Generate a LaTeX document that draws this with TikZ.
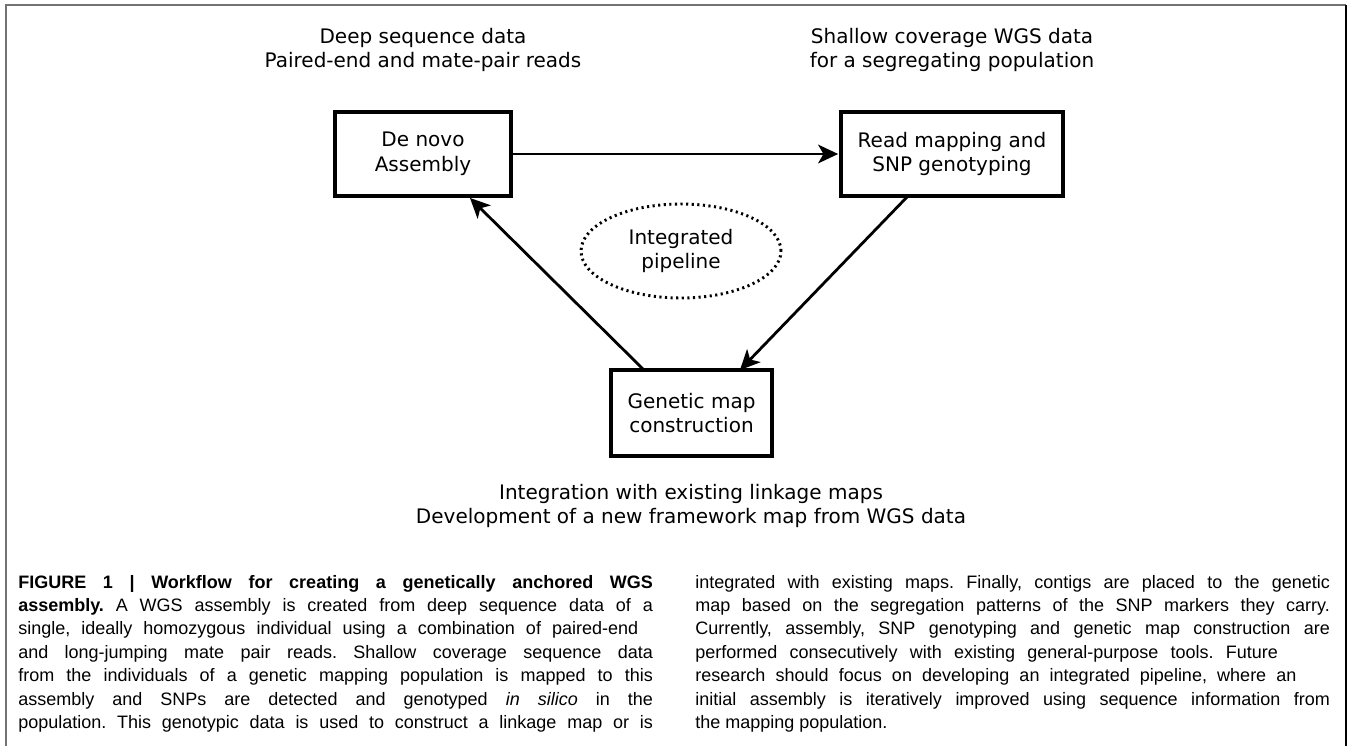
\documentclass[tikz,border=0pt]{standalone}
\usepackage{fontspec}
\usetikzlibrary{arrows.meta,shapes.geometric}
\newfontfamily\dgfont{DejaVu Sans}
\newfontfamily\capfont{Liberation Sans}
% one justified caption line of a given width
\newcommand\capln[2]{\hbox to #1{#2}}
\tikzset{
  x=0.75pt, y=-0.75pt,
  dgtext/.style={font=\dgfont\fontsize{15pt}{18.5pt}\selectfont, align=center, inner sep=0pt},
  stepbox/.style={draw, line width=2.3pt, dgtext, minimum height=63pt},
  flow/.style={line width=2.1pt, -{Stealth[length=15pt,width=14pt,inset=4pt]}, shorten >=1pt},
  capl/.style={font=\capfont\fontsize{13.5pt}{17.5pt}\selectfont\frenchspacing, anchor=base west, inner sep=0pt},
  frameline/.style={line width=1.5pt}
}
\begin{document}
\begin{tikzpicture}
\useasboundingbox (0,0) rectangle (1349,746);
% outer frame (open at the bottom)
\draw[frameline, draw=black!55] (6,746) -- (6,5) -- (1346,5);
\draw[frameline, draw=black] (1346,5) -- (1346,746);

% headings above the two upper steps
\node[dgtext] (inA) at (423,50) {Deep sequence data\\Paired-end and mate-pair reads};
\node[dgtext] (inB) at (952,50) {Shallow coverage WGS data\\for a segregating population};

% workflow steps
\node[stepbox, minimum width=132pt] (asm) at (423,154) {De novo\\Assembly};
\node[stepbox, minimum width=166.5pt] (snp) at (952,154) {Read mapping and\\SNP genotyping};
\node[stepbox, minimum width=120.75pt, minimum height=64.5pt] (gmap) at (691.5,413) {Genetic map\\construction};
\node[ellipse, draw, line width=2.2pt, dash pattern=on 1.6pt off 2.6pt,
      minimum width=150pt, minimum height=70.5pt, dgtext] (pipe) at (681,251) {Integrated\\pipeline};

% output line below
\node[dgtext] (outC) at (691,506) {Integration with existing linkage maps\\Development of a new framework map from WGS data};

% connectors
\coordinate (snpOut) at (908,196);
\coordinate (gmapIn) at (739,371);
\coordinate (gmapOut) at (645,371);
\coordinate (asmIn) at (469,197);
\draw[flow] (asm.east) -- (snp.west);
\draw[flow] (snpOut) -- (gmapIn);
\draw[flow] (gmapOut) -- (asmIn);

% caption, left column
\node[capl] (c1) at (18,588) {\capln{476pt}{\bfseries FIGURE 1 | Workflow for creating a genetically anchored WGS}};
\node[capl] (c2) at (18,611.4) {\capln{476pt}{\textbf{assembly.} A WGS assembly is created from deep sequence data of a}};
\node[capl] (c3) at (18,634.8) {\capln{465pt}{single, ideally homozygous individual using a combination of paired-end}};
\node[capl] (c4) at (18,658.2) {\capln{476pt}{and long-jumping mate pair reads. Shallow coverage sequence data}};
\node[capl] (c5) at (18,681.6) {\capln{476pt}{from the individuals of a genetic mapping population is mapped to this}};
\node[capl] (c6) at (18,705) {\capln{476pt}{assembly and SNPs are detected and genotyped \textit{in silico} in the}};
\node[capl] (c7) at (18,728.4) {\capln{476pt}{population. This genotypic data is used to construct a linkage map or is}};

% caption, right column
\node[capl] (d1) at (695,588) {\capln{476pt}{integrated with existing maps. Finally, contigs are placed to the genetic}};
\node[capl] (d2) at (695,611.4) {\capln{476pt}{map based on the segregation patterns of the SNP markers they carry.}};
\node[capl] (d3) at (695,634.8) {\capln{476pt}{Currently, assembly, SNP genotyping and genetic map construction are}};
\node[capl] (d4) at (695,658.2) {\capln{437pt}{performed consecutively with existing general-purpose tools. Future}};
\node[capl] (d5) at (695,681.6) {\capln{451pt}{research should focus on developing an integrated pipeline, where an}};
\node[capl] (d6) at (695,705) {\capln{476pt}{initial assembly is iteratively improved using sequence information from}};
\node[capl] (d7) at (695,728.4) {the mapping population.};
\end{tikzpicture}
\end{document}
